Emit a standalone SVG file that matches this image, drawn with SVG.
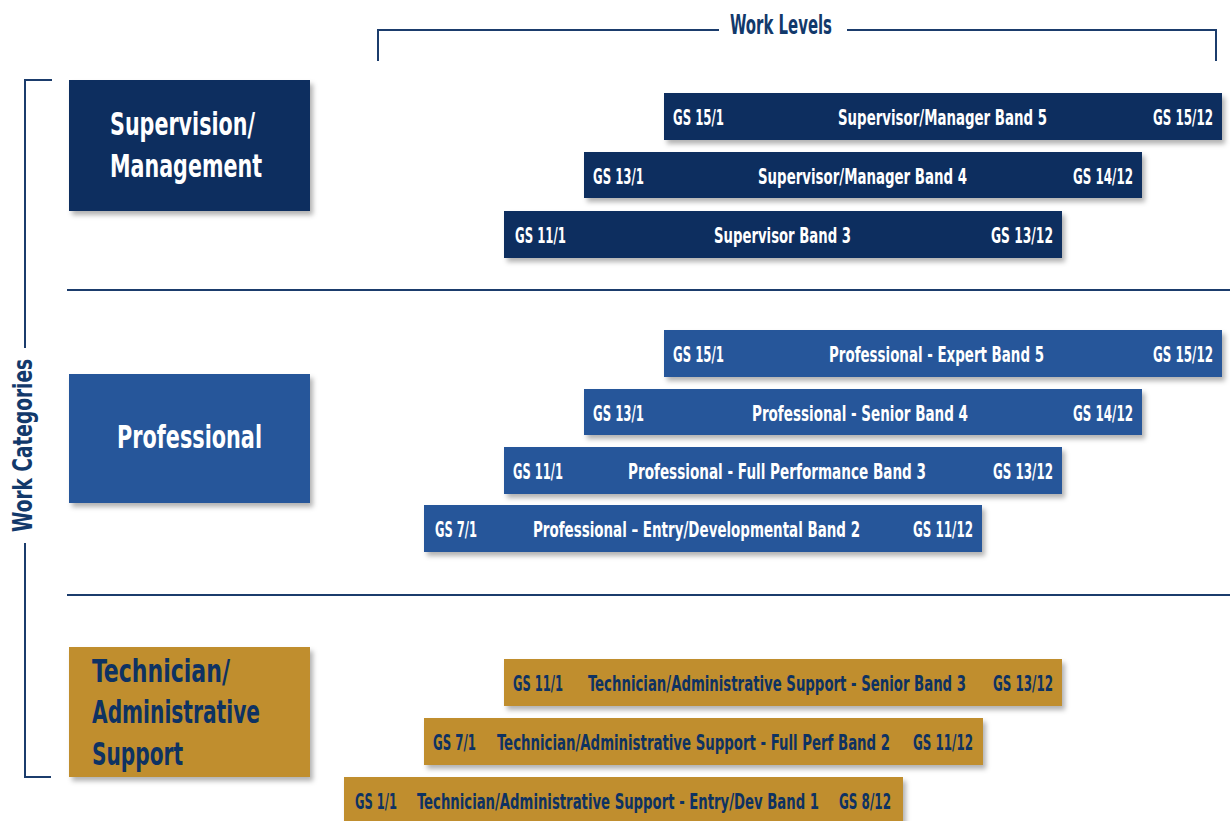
<svg xmlns="http://www.w3.org/2000/svg" width="1230" height="821" viewBox="0 0 1230 821">
<style>
text{font-family:"Liberation Sans Narrow","DejaVu Sans Condensed","Liberation Sans",sans-serif;font-weight:bold}
.ln{stroke:#1b3c6c;stroke-width:2;fill:none}
.sup{fill:#0b2f5f}
.pro{fill:#27569a}
.tec{fill:#c08e2d}
.bt{font-size:22px;fill:#ffffff}
.tt{font-size:22px;fill:#0e3262}
.ct{font-size:32px;fill:#ffffff}
.ctt{font-size:32px;fill:#0e3262}
.hd{font-size:27px;fill:#12396b}
</style>
<defs>
<filter id="sh" x="-5%" y="-20%" width="112%" height="150%">
<feDropShadow dx="3" dy="4" stdDeviation="2.5" flood-color="#000000" flood-opacity="0.3"/>
</filter>
</defs>
<rect width="1230" height="821" fill="#ffffff"/>

<g id="connectors">
<path class="ln" d="M378,61 V30 H719 M847,30 H1216 V61"/>
<path class="ln" d="M52,80 H25 V348 M25,543 V777 H51"/>
<line class="ln" x1="67" y1="290" x2="1230" y2="290"/>
<line class="ln" x1="67" y1="595" x2="1230" y2="595"/>
</g>

<g id="axis-labels">
<text class="hd" x="730" y="34" textLength="102" lengthAdjust="spacingAndGlyphs">Work Levels</text>
<text class="hd" transform="translate(32,446) rotate(-90)" x="-86" y="0" textLength="173" lengthAdjust="spacingAndGlyphs">Work Categories</text>
</g>

<g id="cat-supervision">
<rect class="sup" x="69" y="80" width="241" height="131" filter="url(#sh)"/>
<text class="ct" x="110" y="135" textLength="145" lengthAdjust="spacingAndGlyphs">Supervision/</text>
<text class="ct" x="110" y="177" textLength="152" lengthAdjust="spacingAndGlyphs">Management</text>
</g>

<g id="cat-professional">
<rect class="pro" x="69" y="374" width="241" height="129" filter="url(#sh)"/>
<text class="ct" x="117" y="448" textLength="145" lengthAdjust="spacingAndGlyphs">Professional</text>
</g>

<g id="cat-technician">
<rect class="tec" x="69" y="647" width="241" height="130" filter="url(#sh)"/>
<text class="ctt" x="92" y="682" textLength="138" lengthAdjust="spacingAndGlyphs">Technician/</text>
<text class="ctt" x="92" y="723" textLength="168" lengthAdjust="spacingAndGlyphs">Administrative</text>
<text class="ctt" x="92" y="765" textLength="91" lengthAdjust="spacingAndGlyphs">Support</text>
</g>

<g id="sup-band5">
<rect class="sup" x="664" y="93" width="558" height="47" filter="url(#sh)"/>
<text class="bt" x="673" y="125" textLength="51" lengthAdjust="spacingAndGlyphs">GS 15/1</text>
<text class="bt" x="838" y="125" textLength="209" lengthAdjust="spacingAndGlyphs">Supervisor/Manager Band 5</text>
<text class="bt" x="1153" y="125" textLength="60" lengthAdjust="spacingAndGlyphs">GS 15/12</text>
</g>
<g id="sup-band4">
<rect class="sup" x="584" y="152" width="558" height="46" filter="url(#sh)"/>
<text class="bt" x="593" y="184" textLength="51" lengthAdjust="spacingAndGlyphs">GS 13/1</text>
<text class="bt" x="758" y="184" textLength="209" lengthAdjust="spacingAndGlyphs">Supervisor/Manager Band 4</text>
<text class="bt" x="1073" y="184" textLength="60" lengthAdjust="spacingAndGlyphs">GS 14/12</text>
</g>
<g id="sup-band3">
<rect class="sup" x="504" y="211" width="558" height="47" filter="url(#sh)"/>
<text class="bt" x="515" y="243" textLength="51" lengthAdjust="spacingAndGlyphs">GS 11/1</text>
<text class="bt" x="714" y="243" textLength="137" lengthAdjust="spacingAndGlyphs">Supervisor Band 3</text>
<text class="bt" x="991" y="243" textLength="62" lengthAdjust="spacingAndGlyphs">GS 13/12</text>
</g>

<g id="pro-band5">
<rect class="pro" x="664" y="330" width="558" height="47" filter="url(#sh)"/>
<text class="bt" x="673" y="362" textLength="51" lengthAdjust="spacingAndGlyphs">GS 15/1</text>
<text class="bt" x="829" y="362" textLength="215" lengthAdjust="spacingAndGlyphs">Professional - Expert Band 5</text>
<text class="bt" x="1153" y="362" textLength="60" lengthAdjust="spacingAndGlyphs">GS 15/12</text>
</g>
<g id="pro-band4">
<rect class="pro" x="584" y="389" width="558" height="46" filter="url(#sh)"/>
<text class="bt" x="593" y="421" textLength="51" lengthAdjust="spacingAndGlyphs">GS 13/1</text>
<text class="bt" x="752" y="421" textLength="216" lengthAdjust="spacingAndGlyphs">Professional - Senior Band 4</text>
<text class="bt" x="1073" y="421" textLength="60" lengthAdjust="spacingAndGlyphs">GS 14/12</text>
</g>
<g id="pro-band3">
<rect class="pro" x="504" y="447" width="558" height="47" filter="url(#sh)"/>
<text class="bt" x="513" y="479" textLength="50" lengthAdjust="spacingAndGlyphs">GS 11/1</text>
<text class="bt" x="628" y="479" textLength="298" lengthAdjust="spacingAndGlyphs">Professional - Full Performance Band 3</text>
<text class="bt" x="993" y="479" textLength="60" lengthAdjust="spacingAndGlyphs">GS 13/12</text>
</g>
<g id="pro-band2">
<rect class="pro" x="424" y="505" width="558" height="47" filter="url(#sh)"/>
<text class="bt" x="435" y="537" textLength="42" lengthAdjust="spacingAndGlyphs">GS 7/1</text>
<text class="bt" x="533" y="537" textLength="327" lengthAdjust="spacingAndGlyphs">Professional – Entry/Developmental Band 2</text>
<text class="bt" x="913" y="537" textLength="60" lengthAdjust="spacingAndGlyphs">GS 11/12</text>
</g>

<g id="tec-band3">
<rect class="tec" x="504" y="659" width="558" height="47" filter="url(#sh)"/>
<text class="tt" x="513" y="691" textLength="50" lengthAdjust="spacingAndGlyphs">GS 11/1</text>
<text class="tt" x="588" y="691" textLength="378" lengthAdjust="spacingAndGlyphs">Technician/Administrative Support - Senior Band 3</text>
<text class="tt" x="993" y="691" textLength="60" lengthAdjust="spacingAndGlyphs">GS 13/12</text>
</g>
<g id="tec-band2">
<rect class="tec" x="424" y="718" width="559" height="47" filter="url(#sh)"/>
<text class="tt" x="433" y="750" textLength="43" lengthAdjust="spacingAndGlyphs">GS 7/1</text>
<text class="tt" x="497" y="750" textLength="393" lengthAdjust="spacingAndGlyphs">Technician/Administrative Support - Full Perf Band 2</text>
<text class="tt" x="913" y="750" textLength="60" lengthAdjust="spacingAndGlyphs">GS 11/12</text>
</g>
<g id="tec-band1">
<rect class="tec" x="344" y="777" width="559" height="50" filter="url(#sh)"/>
<text class="tt" x="355" y="809" textLength="42" lengthAdjust="spacingAndGlyphs">GS 1/1</text>
<text class="tt" x="417" y="809" textLength="402" lengthAdjust="spacingAndGlyphs">Technician/Administrative Support - Entry/Dev Band 1</text>
<text class="tt" x="839" y="809" textLength="52" lengthAdjust="spacingAndGlyphs">GS 8/12</text>
</g>
</svg>
